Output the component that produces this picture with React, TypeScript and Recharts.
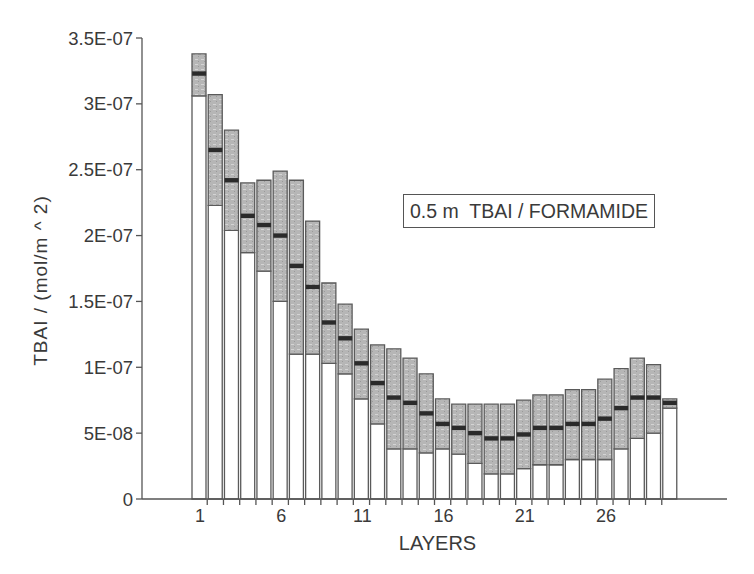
import React from "react";
import { ComposedChart, Bar, Scatter, XAxis, YAxis, Label } from "recharts";

// ---- data (units: mol/m^2) ----
const layers: number[] = Array.from({ length: 30 }, (_, i) => i + 1);
const minVals: number[] = [
  3.06e-7, 2.23e-7, 2.04e-7, 1.87e-7, 1.73e-7, 1.5e-7, 1.1e-7, 1.1e-7, 1.03e-7, 0.95e-7,
  0.76e-7, 0.57e-7, 0.38e-7, 0.38e-7, 0.35e-7, 0.38e-7, 0.34e-7, 0.27e-7, 0.19e-7, 0.19e-7,
  0.23e-7, 0.26e-7, 0.26e-7, 0.3e-7, 0.3e-7, 0.3e-7, 0.38e-7, 0.46e-7, 0.5e-7, 0.69e-7,
];
const maxVals: number[] = [
  3.38e-7, 3.07e-7, 2.8e-7, 2.4e-7, 2.42e-7, 2.49e-7, 2.42e-7, 2.11e-7, 1.64e-7, 1.48e-7,
  1.29e-7, 1.17e-7, 1.14e-7, 1.07e-7, 0.95e-7, 0.76e-7, 0.72e-7, 0.72e-7, 0.72e-7, 0.72e-7,
  0.75e-7, 0.79e-7, 0.79e-7, 0.83e-7, 0.83e-7, 0.91e-7, 0.99e-7, 1.07e-7, 1.02e-7, 0.76e-7,
];
const meanVals: number[] = [
  3.23e-7, 2.65e-7, 2.42e-7, 2.15e-7, 2.08e-7, 2.0e-7, 1.77e-7, 1.61e-7, 1.34e-7, 1.22e-7,
  1.03e-7, 0.88e-7, 0.77e-7, 0.73e-7, 0.65e-7, 0.57e-7, 0.54e-7, 0.5e-7, 0.46e-7, 0.46e-7,
  0.49e-7, 0.54e-7, 0.54e-7, 0.57e-7, 0.57e-7, 0.61e-7, 0.69e-7, 0.77e-7, 0.77e-7, 0.73e-7,
];
const yTicks: number[] = [0, 0.5e-7, 1e-7, 1.5e-7, 2e-7, 2.5e-7, 3e-7, 3.5e-7];
const yTickLabels: string[] = ["0", "5E-08", "1E-07", "1.5E-07", "2E-07", "2.5E-07", "3E-07", "3.5E-07"];
const xLabelShown: number[] = [1, 6, 11, 16, 21, 26];
const legendText = "0.5 m  TBAI / FORMAMIDE";

const data = layers.map((l, i) => ({
  layer: l,
  min: minVals[i],
  range: maxVals[i] - minVals[i],
  mean: meanVals[i],
}));

// ---- layout ----
const W = 746;
const H = 558;
const Y_AXIS_W = 134;
const RIGHT_M = 27;
const TOP_M = 30;
const X_AXIS_H = 67;
const PAD = 49;
const PLOT_W = W - Y_AXIS_W - RIGHT_M;
const BAND = (PLOT_W - 2 * PAD) / layers.length;
const BAR_W = 14;
const FONT = '"Liberation Sans", Arial, Helvetica, sans-serif';
const TEXT = "#3a3a3a";
const AXIS = "#555";

const XTick = (props: any) => {
  const { x, y, payload, index } = props;
  const show = xLabelShown.includes(payload.value);
  return (
    <g>
      {index < layers.length - 1 && (
        <line x1={x + BAND / 2} x2={x + BAND / 2} y1={y} y2={y + 6} stroke={AXIS} strokeWidth={1.3} />
      )}
      {show && (
        <text x={x + 1} y={y + 23} textAnchor="middle" fontSize={18} fontFamily={FONT} fill={TEXT}>
          {payload.value}
        </text>
      )}
    </g>
  );
};

const YLabel = (props: any) => {
  const vb = props.viewBox || { x: 0, y: 0, width: 0, height: 0 };
  const cx = vb.x + 32;
  const cy = vb.y + vb.height / 2 + 12;
  return (
    <text
      x={cx}
      y={cy}
      transform={`rotate(-90 ${cx} ${cy})`}
      textAnchor="middle"
      dominantBaseline="central"
      fontSize={19}
      letterSpacing={1}
      fontFamily={FONT}
      fill={TEXT}
    >
      TBAI / (mol/m ^ 2)
    </text>
  );
};

const XLabel = (props: any) => {
  const vb = props.viewBox || { x: 0, y: 0, width: 0, height: 0 };
  return (
    <text
      x={vb.x + vb.width / 2 + 3}
      y={vb.y + 51}
      textAnchor="middle"
      fontSize={20}
      fontFamily={FONT}
      fill={TEXT}
    >
      LAYERS
    </text>
  );
};

const MeanMark = (props: any) => {
  const { cx, cy } = props;
  if (cx == null || cy == null) return null;
  return <rect x={cx - BAR_W / 2} y={cy - 2.2} width={BAR_W} height={4.4} fill="#2b2b2b" />;
};

export default function App() {
  return (
    <div style={{ position: "relative", width: W, height: H }}>
      <ComposedChart
        width={W}
        height={H}
        data={data}
        margin={{ top: TOP_M, right: RIGHT_M, bottom: 0, left: 0 }}
      >
        <defs>
          <pattern id="speck" width="6" height="5" patternUnits="userSpaceOnUse">
            <rect width="6" height="5" fill="#b6b6b6" />
            <rect x="1" y="1" width="3" height="1" fill="#d4d4d4" />
            <rect x="4" y="3" width="1" height="1" fill="#9a9a9a" />
          </pattern>
        </defs>
        <XAxis
          dataKey="layer"
          type="category"
          interval={0}
          padding={{ left: PAD, right: PAD }}
          height={X_AXIS_H}
          tickLine={false}
          tickSize={0}
          tickMargin={0}
          tick={<XTick />}
          axisLine={{ stroke: AXIS, strokeWidth: 1.3 }}
        >
          <Label content={<XLabel />} />
        </XAxis>
        <XAxis
          xAxisId="top"
          dataKey="layer"
          orientation="top"
          height={0}
          tick={false}
          tickLine={false}
          axisLine={{ stroke: AXIS, strokeWidth: 1.3 }}
        />
        <YAxis
          type="number"
          domain={[0, 3.5e-7]}
          ticks={yTicks}
          interval={0}
          width={Y_AXIS_W}
          tickSize={6}
          tickMargin={3}
          tickFormatter={(v: number, i: number) => yTickLabels[i]}
          tick={{ fontSize: 18.5, fontFamily: FONT, fill: TEXT }}
          tickLine={{ stroke: AXIS, strokeWidth: 1.3 }}
          axisLine={{ stroke: AXIS, strokeWidth: 1.3 }}
        >
          <Label content={<YLabel />} />
        </YAxis>
        <YAxis
          yAxisId="right"
          orientation="right"
          type="number"
          domain={[0, 3.5e-7]}
          width={0}
          tick={false}
          tickLine={false}
          axisLine={{ stroke: AXIS, strokeWidth: 1.3 }}
        />
        <Bar dataKey="min" stackId="a" barSize={BAR_W} fill="#ffffff" stroke="#5a5a5a" strokeWidth={1.3} isAnimationActive={false} />
        <Bar dataKey="range" stackId="a" barSize={BAR_W} fill="url(#speck)" stroke="#5a5a5a" strokeWidth={1.3} isAnimationActive={false} />
        <Scatter dataKey="mean" shape={<MeanMark />} isAnimationActive={false} />
      </ComposedChart>
      <div
        style={{
          position: "absolute",
          left: 395,
          top: 186,
          width: 250,
          height: 32,
          border: "1.5px solid #555",
          boxSizing: "content-box",
          fontFamily: FONT,
          fontSize: 19.5,
          color: TEXT,
          whiteSpace: "pre",
          lineHeight: "32px",
          paddingLeft: 0,
          textIndent: 6,
          background: "#fff",
        }}
      >
        {legendText}
      </div>
    </div>
  );
}
